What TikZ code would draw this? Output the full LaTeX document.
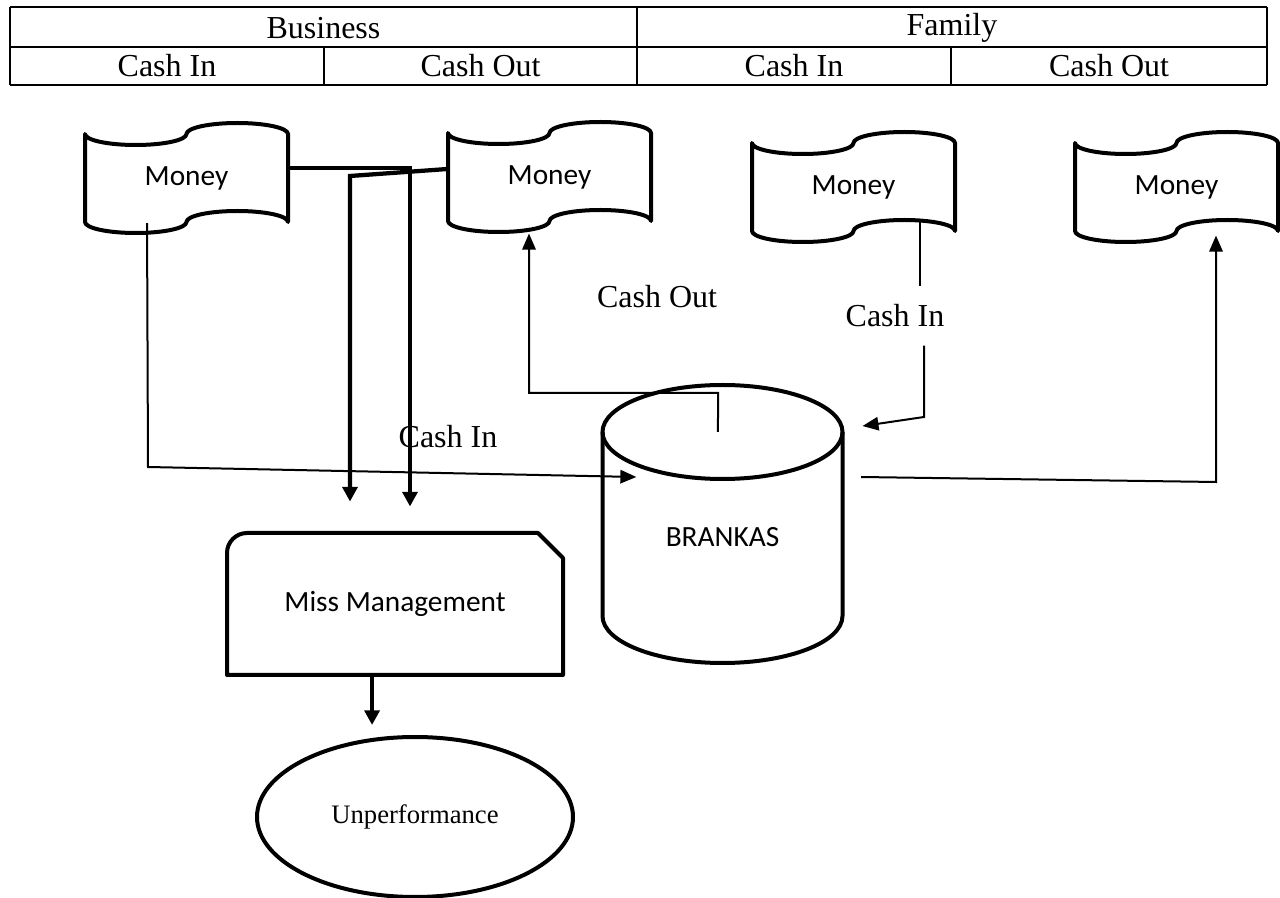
\documentclass[tikz,border=0pt]{standalone}
\usepackage{fontspec}
\setmainfont{Liberation Serif}
\newfontfamily\calibri{Carlito}
\usetikzlibrary{arrows.meta,shapes.geometric,calc}

\begin{document}
\begin{tikzpicture}[x=0.375pt,y=-0.375pt,
  shapeline/.style={line width=1.5pt, line join=round},
  thinline/.style={line width=0.75pt},
  boldline/.style={line width=1.6pt},
  gridline/.style={line width=0.75pt},
  thinarrow/.style={thinline,-{Triangle[length=6pt,width=5pt]}},
  boldarrow/.style={boldline,-{Triangle[length=5.5pt,width=5.6pt]}},
  tabletext/.style={font=\fontsize{12}{14}\selectfont, inner sep=0pt},
  flowlabel/.style={font=\fontsize{12}{14}\selectfont, inner sep=0pt},
  calfont/.style={font=\calibri\fontsize{11}{13}\selectfont, inner sep=0pt},
  moneytext/.style={calfont, minimum width=76.125pt, minimum height=33pt},
  money/.pic={
    % punched-tape outline, 203 x 110 units, origin at the top-left
    \draw[shapeline] (0,11) .. controls (0,17.08) and (22.72,22) .. (50.75,22)
      .. controls (78.78,22) and (101.5,17.08) .. (101.5,11)
      .. controls (101.5,4.92) and (124.22,0) .. (152.25,0)
      .. controls (180.28,0) and (203,4.92) .. (203,11)
      -- (203,99)
      .. controls (203,92.92) and (180.28,88) .. (152.25,88)
      .. controls (124.22,88) and (101.5,92.92) .. (101.5,99)
      .. controls (101.5,105.08) and (78.78,110) .. (50.75,110)
      .. controls (22.72,110) and (0,105.08) .. (0,99) -- cycle;
  }
]
\useasboundingbox (0,0) rectangle (1280,898);

% header table
\draw[gridline] (10,7) -- (1267,7);
\draw[gridline] (10,47) -- (1267,47);
\draw[line width=1.1pt] (10,85) -- (1267,85);
\draw[gridline] (10,7) -- (10,85);
\draw[gridline] (637,7) -- (637,85);
\draw[gridline] (1267,7) -- (1267,85);
\draw[gridline] (324,47) -- (324,85);
\draw[gridline] (951,47) -- (951,85);
\node[tabletext] (hbus) at (323.5,28) {Business};
\node[tabletext] (hfam) at (952,28) {Family};
\node[tabletext] (hbin) at (167,66) {Cash In};
\node[tabletext] (hbout) at (480.5,66) {Cash Out};
\node[tabletext] (hfin) at (794,66) {Cash In};
\node[tabletext] (hfout) at (1109,66) {Cash Out};

% money tapes
\pic at (85,123) {money};
\node[moneytext] (m1) at (186.5,178) {Money};
\pic at (448,122) {money};
\node[moneytext] (m2) at (549.5,177) {Money};
\pic at (752,132) {money};
\node[moneytext] (m3) at (853.5,187) {Money};
\pic at (1075,132) {money};
\node[moneytext] (m4) at (1176.5,187) {Money};

% safe (cylinder)
\draw[shapeline] (602.5,432) -- (602.5,616)
  .. controls (602.5,641.96) and (656.22,663) .. (722.5,663)
  .. controls (788.78,663) and (842.5,641.96) .. (842.5,616) -- (842.5,432);
\draw[shapeline] (722.5,432) ellipse [x radius=120, y radius=47];
\node[calfont, minimum width=90pt, minimum height=94.5pt] (br) at (722.5,537) {BRANKAS};

% miss management box
\draw[shapeline] (227,675) -- (227,553) .. controls (227,542) and (236,533) .. (247,533)
  -- (538,533) -- (563,558) -- (563,675) -- cycle;
\node[calfont, minimum width=126pt, minimum height=53.25pt] (mm) at (395,604) {Miss Management};

% result
\node[draw, ellipse, shapeline, minimum width=118.5pt, minimum height=60pt, inner sep=0pt,
  font=\fontsize{10}{12}\selectfont] (up) at (415,817) {Unperformance};

% labels
\node[flowlabel] (lco) at (657,297) {Cash Out};
\node[flowlabel] (lci) at (448,437) {Cash In};
\node[flowlabel, minimum height=21.75pt] (lfi) at (895,316) {Cash In};

% business money into miss management
\coordinate (b1) at (410,168);
\draw[boldarrow, shorten >=9.75pt] ([yshift=3.75pt]m1.east) -- (b1) -- (b1 |- mm.north);
\coordinate (a1) at (350,176);
\draw[boldarrow, shorten >=11.6pt] ([yshift=3pt]m2.west) -- (a1) -- (a1 |- mm.north);

% business cash in to safe
\coordinate (l1) at (148,467);
\draw[thinarrow] ([xshift=-14.8pt,yshift=-16.9pt]m1.center) -- (l1)
  -- ([xshift=12.9pt,yshift=22.5pt]br.west);

% business cash out from safe
\coordinate (co1) at (718,393);
\coordinate (co2) at (529,393);
\draw[thinarrow, shorten >=4.5pt] ([xshift=-1.69pt,yshift=39.4pt]br.center) -- (co1) -- (co2) -- (co2 |- m2.south);

% family cash in to safe
\coordinate (f1) at ([xshift=25pt,yshift=-13.1pt]m3.center);
\coordinate (f2) at (924,417);
\draw[thinline] (f1) -- (f1 |- lfi.north);
\draw[thinarrow] (lfi.south -| f2) -- (f2) -- ([xshift=7.3pt,yshift=41.6pt]br.east);

% family cash out from safe
\coordinate (r1) at (1216,482);
\draw[thinarrow, shorten >=1.5pt] ([xshift=6.75pt,yshift=22.5pt]br.east) -- (r1) -- (r1 |- m4.south);

% miss management leads to unperformance
\coordinate (d1) at ([xshift=-8.6pt]mm.south);
\draw[boldarrow, shorten >=3.75pt] (d1) -- (d1 |- up.north);
\end{tikzpicture}
\end{document}
